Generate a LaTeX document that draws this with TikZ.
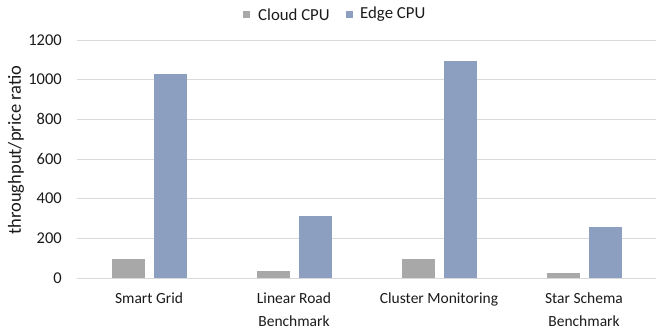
\documentclass[tikz,border=0pt]{standalone}
\usepackage{fontspec}
\setmainfont{Carlito}
\definecolor{gridc}{HTML}{D9D9D9}
\definecolor{cloudc}{HTML}{A8A8A8}
\definecolor{edgec}{HTML}{8D9FC0}
\definecolor{txt}{HTML}{1A1A1A}
\tikzset{
  lbl/.style={text=txt, inner sep=0pt},
  ticklbl/.style={lbl, font=\fontsize{16.5}{20}\selectfont},
  catlbl/.style={lbl, font=\fontsize{15.5}{22.5}\selectfont, align=center},
  leglbl/.style={lbl, font=\fontsize{16.8}{20}\selectfont},
  titlelbl/.style={lbl, font=\fontsize{18.5}{20}\selectfont},
  cloudbar/.style={fill=cloudc},
  edgebar/.style={fill=edgec},
  grid/.style={draw=gridc, line width=0.8pt},
}
\begin{document}
\begin{tikzpicture}[x=1pt,y=-1pt]
\useasboundingbox (0,0) rectangle (656,332);
% gridlines and tick labels
\foreach \v in {0,200,...,1200}{
  \pgfmathsetmacro{\yy}{278-\v*0.19833}
  \draw[grid] (76.5,\yy) -- (656,\yy);
  \node[ticklbl, anchor=east] (t\v) at (62,\yy) {\v};
}
% bars
\foreach \i/\c/\e/\name in {0/96/1029/Smart Grid,1/34/311/{Linear Road\\Benchmark},2/98/1093/Cluster Monitoring,3/27/258/{Star Schema\\Benchmark}}{
  \pgfmathsetmacro{\cx}{76.5+145*(\i+0.5)}
  \pgfmathsetmacro{\yc}{278-\c*0.19833}
  \pgfmathsetmacro{\ye}{278-\e*0.19833}
  \fill[cloudbar] (\cx-37,278) rectangle (\cx-4,\yc);
  \fill[edgebar] (\cx+5,278) rectangle (\cx+38,\ye);
  \node[catlbl, anchor=north] (cat\i) at (\cx,293) {\name};
}
% axis title
\node[titlelbl, rotate=90] (ytitle) at (16,150) {throughput/price ratio};
% legend
\fill[cloudbar] (243,11) rectangle (250,18);
\node[leglbl, anchor=west] (lcloud) at (258,14.5) {Cloud CPU};
\fill[edgebar] (346,11) rectangle (353,18);
\node[leglbl, anchor=west] (ledge) at (360,14.5) {Edge CPU};
\end{tikzpicture}
\end{document}
